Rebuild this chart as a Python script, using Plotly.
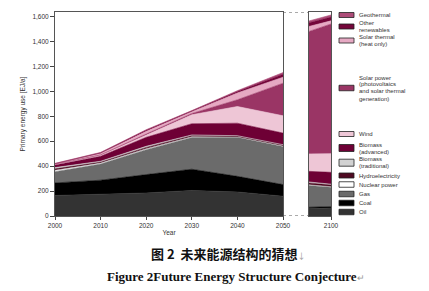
import plotly.graph_objects as go

years = [2000, 2010, 2020, 2030, 2040, 2050]
years_2100 = [2090, 2100]

series_names = ["Oil", "Coal", "Gas", "Nuclear power", "Hydroelectricity",
                "Biomass (traditional)", "Biomass (advanced)", "Wind",
                "Solar power", "Solar thermal", "Other renewables", "Geothermal"]

oil = [165, 175, 185, 205, 193, 159]
coal = [100, 112, 147, 170, 125, 93]
gas = [90, 130, 200, 255, 313, 306]
nuclear = [12, 8, 8, 6, 3, 3]
hydro = [11, 8, 10, 10, 8, 9]
biomass_trad = [10, 6, 9, 4, 2, 2]
biomass_adv = [22, 40, 72, 90, 100, 93]
wind = [4, 8, 18, 72, 134, 139]
solar_power = [1, 3, 8, 10, 54, 261]
solar_thermal = [3, 12, 22, 15, 55, 48]
other_ren = [2, 5, 8, 5, 12, 24]
geothermal = [2, 3, 5, 3, 6, 13]

oil_2100 = [58, 65]
coal_2100 = [12, 10]
gas_2100 = [175, 155]
nuclear_2100 = [5, 5]
hydro_2100 = [15, 15]
biomass_trad_2100 = [8, 5]
biomass_adv_2100 = [85, 95]
wind_2100 = [140, 150]
solar_power_2100 = [982, 1040]
solar_thermal_2100 = [40, 25]
other_ren_2100 = [30, 30]
geothermal_2100 = [14, 17]

yticks = [0, 200, 400, 600, 800, 1000, 1200, 1400, 1600]
xticks = [2000, 2010, 2020, 2030, 2040, 2050]

legend_labels = [["Geothermal"], ["Other", "renewables"], ["Solar thermal", "(heat only)"],
                 ["Solar power", "(photovoltaics", "and solar thermal", "generation)"],
                 ["Wind"], ["Biomass", "(advanced)"], ["Biomass", "(traditional)"],
                 ["Hydroelectricity"], ["Nuclear power"], ["Gas"], ["Coal"], ["Oil"]]

colors = {
    "Oil": "#333333", "Coal": "#000000", "Gas": "#6b6b6b", "Nuclear power": "#ffffff",
    "Hydroelectricity": "#4f0a22", "Biomass (traditional)": "#d2d2d2",
    "Biomass (advanced)": "#6e0035", "Wind": "#eec6d6", "Solar power": "#9a3565",
    "Solar thermal": "#e6a9c3", "Other renewables": "#74063a", "Geothermal": "#ad4c78",
}
legend_series = ["Geothermal", "Other renewables", "Solar thermal", "Solar power", "Wind",
                 "Biomass (advanced)", "Biomass (traditional)", "Hydroelectricity",
                 "Nuclear power", "Gas", "Coal", "Oil"]

main_vals = [oil, coal, gas, nuclear, hydro, biomass_trad, biomass_adv, wind,
             solar_power, solar_thermal, other_ren, geothermal]
vals_2100 = [oil_2100, coal_2100, gas_2100, nuclear_2100, hydro_2100, biomass_trad_2100,
             biomass_adv_2100, wind_2100, solar_power_2100, solar_thermal_2100,
             other_ren_2100, geothermal_2100]

fig = go.Figure()
for name, v in zip(series_names, main_vals):
    c = colors[name]
    lc = "#bbbbbb" if name == "Nuclear power" else c
    fig.add_trace(go.Scatter(x=years, y=v, name=name, stackgroup="main", mode="lines",
                             line=dict(color=lc, width=0.6), fillcolor=c,
                             showlegend=False, xaxis="x", yaxis="y"))
for name, v in zip(series_names, vals_2100):
    c = colors[name]
    lc = "#bbbbbb" if name == "Nuclear power" else c
    fig.add_trace(go.Scatter(x=years_2100, y=v, name=name, stackgroup="p2100", mode="lines",
                             line=dict(color=lc, width=0.6), fillcolor=c,
                             showlegend=False, xaxis="x2", yaxis="y2"))

W, H = 429, 291
ml, mr, mt, mb = 55, 98, 12, 75
pw, ph = W - ml - mr, H - mt - mb
def px(x):
    return (x - ml) / pw
def py(y):
    return (H - mb - y) / ph

ymax = 1636
axfont = dict(family="Liberation Sans, Arial, sans-serif", size=6.5, color="#333333")
fig.update_layout(
    width=W, height=H, margin=dict(l=ml, r=mr, t=mt, b=mb),
    paper_bgcolor="white", plot_bgcolor="white",
    xaxis=dict(domain=[0, px(283)], range=[2000, 2050], tickvals=xticks,
               ticks="outside", ticklen=3, tickcolor="#444", showline=True,
               linecolor="#555", linewidth=1, mirror=True, showgrid=False, zeroline=False,
               tickfont=axfont, title=dict(text="Year", font=axfont, standoff=2)),
    xaxis2=dict(domain=[px(309), 1], range=[2090, 2100], tickvals=[2100], anchor="y2",
                ticks="outside", ticklen=3, tickcolor="#444", showline=True,
                linecolor="#555", linewidth=1, mirror=True, showgrid=False, zeroline=False,
                tickfont=axfont),
    yaxis=dict(range=[0, ymax], tickvals=yticks, tickformat=",", ticks="outside", ticklen=4,
               tickcolor="#444", showline=True, linecolor="#555", linewidth=1, mirror=True,
               showgrid=False, zeroline=False, tickfont=axfont,
               title=dict(text="Primary energy use [EJ/a]", font=axfont, standoff=6)),
    yaxis2=dict(range=[0, ymax], anchor="x2", showticklabels=False, ticks="",
                showline=True, linecolor="#555", linewidth=1, mirror=True,
                showgrid=False, zeroline=False),
)

# dotted connectors across axis break
for yy in [0, ymax]:
    fig.add_shape(type="line", xref="paper", yref="y", x0=px(283), x1=px(309), y0=yy, y1=yy,
                  line=dict(color="#555", width=1, dash="dot"))

# manual legend
leg_y = [15, 26.5, 40.5, 88, 134, 148, 162.7, 175.5, 184.5, 194, 203, 212]
leg_h = [5, 5, 5, 5.5, 5, 7, 7, 5, 5.5, 5.5, 5.5, 5.5]
line_step = 7.0
legfont = dict(family="Liberation Sans, Arial, sans-serif", size=6, color="#333333")
for lines, s, yc, hh in zip(legend_labels, legend_series, leg_y, leg_h):
    fig.add_shape(type="rect", xref="paper", yref="paper", x0=px(339), x1=px(354),
                  y0=py(yc + hh / 2), y1=py(yc - hh / 2), fillcolor=colors[s],
                  line=dict(color="#222", width=0.8))
    n = len(lines)
    for i, t in enumerate(lines):
        ly = yc + (i - (n - 1) / 2) * line_step
        fig.add_annotation(xref="paper", yref="paper", x=px(358), y=py(ly), text=t,
                           showarrow=False, xanchor="left", yanchor="middle", align="left",
                           font=legfont, borderpad=0)

fig.add_annotation(xref="paper", yref="paper", x=px(228), y=py(253),
                   text="<b>图 2  未来能源结构的猜想</b><span style='font-size:8px;color:#999'>↓</span>",
                   showarrow=False, xanchor="center", yanchor="middle",
                   font=dict(family="Noto Sans CJK SC", size=13, color="#111"))
fig.add_annotation(xref="paper", yref="paper", x=px(236), y=py(276),
                   text="<b>Figure 2Future Energy Structure Conjecture</b><span style='font-size:9px;color:#999'>↵</span>",
                   showarrow=False, xanchor="center", yanchor="middle",
                   font=dict(family="Liberation Serif, Times New Roman, serif", size=13,
                             color="#111"))

fig.write_html("out.html")
